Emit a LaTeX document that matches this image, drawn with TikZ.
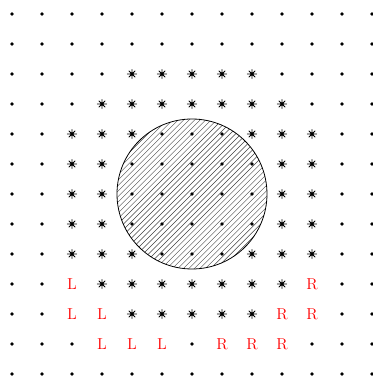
\documentclass[tikz,border=0pt]{standalone}
\tikzset{asteriskpt/.pic={\draw[line width=0.6pt] (90:3.4pt) -- (270:3.4pt) (0:3.6pt) -- (180:3.6pt) (45:3.2pt) -- (225:3.2pt) (135:3.2pt) -- (315:3.2pt);}}
\begin{document}
\begin{tikzpicture}[x=0.8cm,y=0.8cm,line cap=round,letter/.style={red,font=\large,inner sep=1pt,fill=white}]
\useasboundingbox (-6.4,-6.167) rectangle (6.033,6.467);
\begin{scope}
\clip (0,0) circle (2.5);
\foreach \c in {-3.66,-3.477,...,3.7}
  \draw[black!75,line width=0.35pt] (\c-3,-3) -- (\c+3,3);
\end{scope}
\draw[semithick] (0,0) circle (2.5);
% lattice points
\foreach \x in {-6,...,6}
  \foreach \y in {-6,...,6}
    \fill (\x,\y) circle (1.4pt);
% ring of stars
\foreach \x/\y in {-2/4,-1/4,0/4,1/4,2/4,
  -3/3,-2/3,-1/3,0/3,1/3,2/3,3/3,
  -4/2,-3/2,-2/2,2/2,3/2,4/2,
  -4/1,-3/1,3/1,4/1,-4/0,-3/0,3/0,4/0,-4/-1,-3/-1,3/-1,4/-1,
  -4/-2,-3/-2,-2/-2,2/-2,3/-2,4/-2,
  -3/-3,-2/-3,-1/-3,0/-3,1/-3,2/-3,3/-3,
  -2/-4,-1/-4,0/-4,1/-4,2/-4}
  \pic at (\x,\y) {asteriskpt};
% left and right marks
\foreach \x/\y [count=\i] in {-4/-3,-4/-4,-3/-4,-3/-5,-2/-5,-1/-5}
  \node[letter] (l\i) at (\x,\y) {L};
\foreach \x/\y [count=\i] in {4/-3,4/-4,3/-4,3/-5,2/-5,1/-5}
  \node[letter] (r\i) at (\x,\y) {R};
\end{tikzpicture}
\end{document}
